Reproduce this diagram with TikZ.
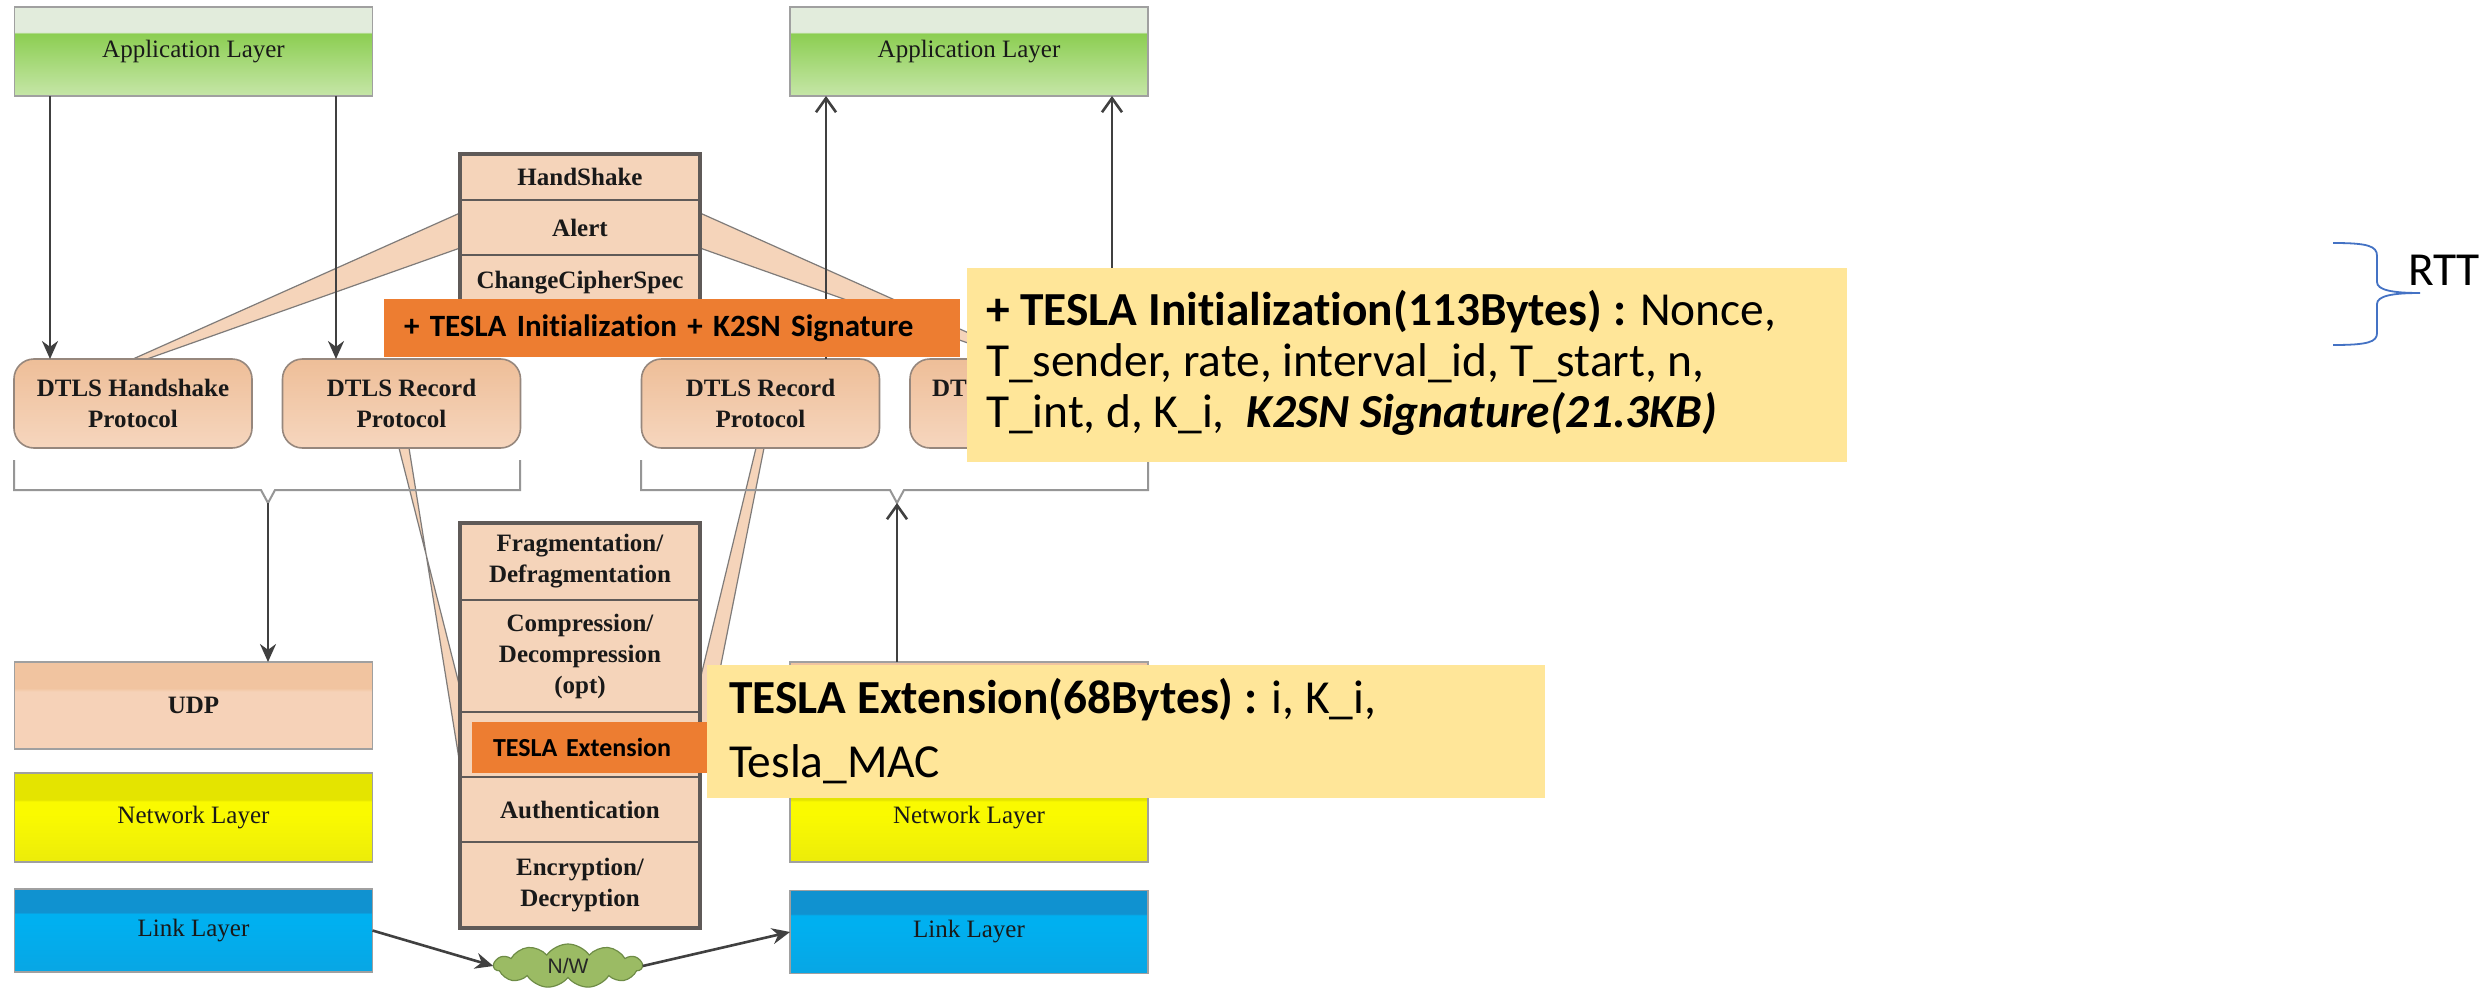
\documentclass[tikz,border=0pt]{standalone}
\usepackage{fontspec}
\setmainfont{Liberation Serif}
\newfontfamily\calibri[Ligatures=NoCommon]{Carlito}
\newfontfamily\arialf{Liberation Sans}
\usetikzlibrary{arrows.meta,shapes.symbols}

\definecolor{gBand}{RGB}{226,236,220}
\definecolor{gHigh}{RGB}{140,206,82}
\definecolor{gLow}{RGB}{198,230,168}
\definecolor{pBand}{RGB}{241,196,160}
\definecolor{pBody}{RGB}{246,210,184}
\definecolor{pDark}{RGB}{238,190,152}
\definecolor{pLight}{RGB}{246,214,190}
\definecolor{yBand}{RGB}{228,228,0}
\definecolor{yBody}{RGB}{250,250,0}
\definecolor{yLow}{RGB}{236,236,10}
\definecolor{bBand}{RGB}{16,146,208}
\definecolor{bBody}{RGB}{0,176,240}
\definecolor{bLow}{RGB}{8,166,228}
\definecolor{stackfill}{RGB}{245,212,186}
\definecolor{stackline}{RGB}{95,90,88}
\definecolor{boxline}{RGB}{160,160,160}
\definecolor{dtlsline}{RGB}{150,135,125}
\definecolor{arrowc}{RGB}{64,64,64}
\definecolor{teslaorange}{RGB}{237,125,49}
\definecolor{notey}{RGB}{255,230,153}
\definecolor{cloudg}{RGB}{155,187,100}
\definecolor{cloudd}{RGB}{110,140,70}
\definecolor{bracec}{RGB}{68,114,196}
\definecolor{bracketc}{RGB}{150,150,150}

% layer fills with a band along the top edge
\pgfdeclareverticalshading{appsh}{100bp}{color(0bp)=(gLow); color(25bp)=(gLow); color(60bp)=(gHigh); color(61bp)=(gBand); color(75bp)=(gBand); color(100bp)=(gBand)}
\pgfdeclareverticalshading{udpsh}{100bp}{color(0bp)=(pBody); color(25bp)=(pBody); color(58bp)=(pBody); color(60bp)=(pBand); color(75bp)=(pBand); color(100bp)=(pBand)}
\pgfdeclareverticalshading{netsh}{100bp}{color(0bp)=(yLow); color(25bp)=(yLow); color(52bp)=(yBody); color(59bp)=(yBody); color(60bp)=(yBand); color(75bp)=(yBand); color(100bp)=(yBand)}
\pgfdeclareverticalshading{linksh}{100bp}{color(0bp)=(bLow); color(25bp)=(bLow); color(55bp)=(bBody); color(60bp)=(bBody); color(61bp)=(bBand); color(75bp)=(bBand); color(100bp)=(bBand)}

\tikzset{
  every node/.style={inner sep=0pt, outer sep=0pt},
  txt/.style={font=\fontsize{12.5}{15.5}\selectfont, text=black!90},
  txtb/.style={font=\fontsize{12.5}{15.5}\selectfont\bfseries, text=black!90},
  layer/.style={rectangle, draw=boxline, line width=0.8pt, minimum width=179pt, align=center},
  applayer/.style={layer, txt, shading=appsh, minimum height=44.5pt},
  udpbox/.style={layer, txtb, shading=udpsh, minimum height=43.5pt},
  netbox/.style={layer, txt, shading=netsh, minimum height=44.5pt},
  linkbox/.style={layer, txt, shading=linksh, minimum height=41.5pt},
  dtlsbox/.style={txtb, rectangle, rounded corners=10pt, draw=dtlsline, line width=0.8pt,
    top color=pDark, bottom color=pLight, minimum width=119pt, minimum height=44.5pt, align=center},
  stackrow/.style={txtb, rectangle, draw=stackline, line width=1.1pt, fill=stackfill,
    minimum width=120pt, align=center},
  stackframe/.style={draw=stackline, line width=1.8pt},
  fan/.style={fill=stackfill, draw=stackline!80, line width=0.6pt},
  bracketline/.style={draw=bracketc, line width=1pt},
  darrow/.style={draw=arrowc, line width=1.3pt, -{Stealth[length=9pt,width=8pt]}},
  uarrow/.style={draw=arrowc, line width=1.3pt, -{Straight Barb[length=7pt,width=10pt]}},
  orangetag/.style={rectangle, fill=teslaorange, align=left, anchor=west,
    font=\calibri\bfseries},
  notebox/.style={rectangle, fill=notey},
  notetext/.style={anchor=base west, font=\calibri\fontsize{23.7}{29}\selectfont},
}

\begin{document}
\begin{tikzpicture}[x=0.5pt,y=-0.5pt]
\fill[white] (0,0) rectangle (2489,990);
\useasboundingbox (0,0) rectangle (2489,990);

% wedges joining the protocol boxes to the record/handshake stacks
\draw[fan] (460,213) -- (133,359) -- (147,359) -- (460,248) -- cycle;
\draw[fan] (700,213) -- (1027,359) -- (1013,359) -- (700,248) -- cycle;
\draw[fan] (399,448) -- (460,688) -- (460,765) -- (409,448) -- cycle;
\draw[fan] (756,448) -- (700,680) -- (700,770) -- (764,448) -- cycle;

% upper stack: handshake-layer messages
\node[stackrow, minimum height=23pt] (shHand) at (580,177) {HandShake};
\node[stackrow, minimum height=27.5pt] (shAlert) at (580,227.5) {Alert};
\node[stackrow, minimum height=28pt] (shCCS) at (580,283) {ChangeCipherSpec};
\draw[stackframe] (shHand.north west) rectangle (shCCS.south east);

% lower stack: record-layer functions
\node[stackrow, minimum height=38.5pt] (frag) at (580,561.5) {Fragmentation/\\Defragmentation};
\node[stackrow, minimum height=56pt] (comp) at (580,656) {Compression/\\Decompression\\(opt)};
\node[stackrow, minimum height=32.5pt] (slot) at (580,744.5) {};
\node[stackrow, minimum height=32.5pt] (auth) at (580,809.5) {Authentication};
\node[stackrow, minimum height=43pt] (enc) at (580,885) {Encryption/\\Decryption};
\draw[stackframe] (frag.north west) rectangle (enc.south east);

% DTLS protocol boxes
\node[dtlsbox] (hsL) at (133,403.5) {DTLS Handshake\\Protocol};
\node[dtlsbox] (recL) at (401.5,403.5) {DTLS Record\\Protocol};
\node[dtlsbox] (recR) at (760.5,403.5) {DTLS Record\\Protocol};
\node[dtlsbox] (hsR) at (1029,403.5) {};
\node[txtb, anchor=base west] (hsRtxt) at (932,396) {DT};

% layer boxes of both end points
\node[applayer] (appL) at (193.5,51.5) {Application Layer};
\node[applayer] (appR) at (969,51.5) {Application Layer};
\node[udpbox] (udpL) at (193.5,705.5) {UDP};
\node[udpbox] (udpR) at (969,705.5) {};
\node[netbox] (netL) at (193.5,817.5) {Network Layer};
\node[netbox] (netR) at (969,817.5) {Network Layer};
\node[linkbox] (linkL) at (193.5,930.5) {Link Layer};
\node[linkbox] (linkR) at (969,932) {Link Layer};

\node[cloud, cloud puffs=11, cloud puff arc=110, aspect=3.3, fill=cloudg, draw=cloudd,
  line width=0.6pt, minimum width=74pt, minimum height=22pt,
  font=\arialf\fontsize{10.5}{12}\selectfont, text=black!85] (nw) at (568,966) {N/W};

% brackets gathering the DTLS boxes
\coordinate (brL) at (268,503);
\coordinate (brR) at (897,503);
\draw[bracketline] (14,460) -- (14,490) -- (261,490) -- (brL) -- (275,490) -- (520,490) -- (520,460);
\draw[bracketline] (641,460) -- (641,490) -- (890,490) -- (brR) -- (904,490) -- (1148,490) -- (1148,460);

% arrows
\path ([xshift=-41.5pt]hsL.north) coordinate (hsIn);
\path ([xshift=-32.75pt]recL.north) coordinate (recIn);
\path ([xshift=32.75pt]recR.north) coordinate (recOut);
\path ([xshift=41.5pt]hsR.north) coordinate (hsOut);
\draw[darrow] (hsIn |- appL.south) -- (hsIn);
\draw[darrow] (recIn |- appL.south) -- (recIn);
\draw[uarrow] (recOut) -- (recOut |- appR.south);
\draw[uarrow] (hsOut) -- (hsOut |- appR.south);
\draw[darrow] (brL) -- (brL |- udpL.north);
\draw[uarrow] (brR |- udpR.north) -- (brR);
\draw[darrow] (linkL.east) -- (nw.west);
\draw[darrow] (nw.east) -- (linkR.west);

% TESLA tags
\node[orangetag, minimum height=29pt, inner xsep=10pt, text width=268pt,
  font=\calibri\bfseries\fontsize{15.5}{18}\selectfont] (tagInit) at (384,328)
  {+ TESLA Initialization + K2SN Signature};
\node[orangetag, minimum height=25.5pt, inner xsep=10.5pt, text width=96.5pt,
  font=\calibri\bfseries\fontsize{13}{15}\selectfont] (tagExt) at (472,747.5)
  {TESLA Extension};

% TESLA field notes
\node[notebox, minimum width=440pt, minimum height=97pt] (noteInit) at (1407,365) {};
\node[notetext] (initA) at (986,325) {\textbf{+ TESLA Initialization(113Bytes) :} Nonce,};
\node[notetext] (initB) at (986,376) {T\_sender, rate, interval\_id, T\_start, n,};
\node[notetext] (initC) at (986,427) {T\_int, d, K\_i,\ \ \textbf{\textit{K2SN Signature(21.3KB)}}};

\node[notebox, minimum width=419pt, minimum height=66.5pt] (noteExt) at (1126,731.5) {};
\node[notetext] (extA) at (729,713) {\textbf{TESLA Extension(68Bytes) :} i, K\_i,};
\node[notetext] (extB) at (729,777) {Tesla\_MAC};

% round-trip brace
\draw[bracec, line width=0.9pt] (2333,243) .. controls (2368,243) and (2377,246) .. (2377,256)
  -- (2377,282) .. controls (2377,290) and (2392,293) .. (2420,293)
  .. controls (2392,293) and (2377,296) .. (2377,304)
  -- (2377,333) .. controls (2377,342) and (2368,345) .. (2333,345);
\node[notetext] (rtt) at (2408,285) {RTT};
\end{tikzpicture}
\end{document}
